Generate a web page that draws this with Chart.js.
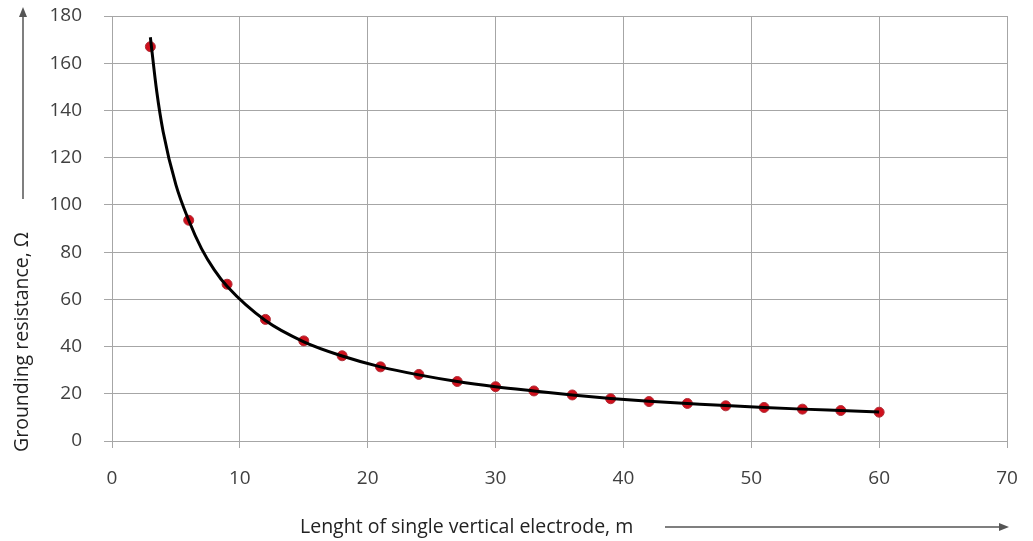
<!DOCTYPE html>
<html>
<head>
<meta charset="utf-8">
<script src="https://cdn.jsdelivr.net/npm/chart.js@4.4.1/dist/chart.umd.min.js"></script>
<style>
  html, body { margin: 0; padding: 0; background: #fff; }
  #wrap { width: 1033px; height: 541px; }
</style>
</head>
<body>
<div id="wrap"><canvas id="groundingChart" width="1033" height="541"></canvas></div>
<script>
// measured points (electrode length in m, resistance in ohm)
const lengths = [3, 6, 9, 12, 15, 18, 21, 24, 27, 30, 33, 36, 39, 42, 45, 48, 51, 54, 57, 60];
const resistance = [167, 93.5, 66.4, 51.5, 42.4, 36.1, 31.4, 28.2, 25.2, 23.0, 21.2, 19.5, 17.9, 16.7, 15.9, 14.9, 14.2, 13.5, 12.9, 12.2];

// trend line
const trendX = [3, 3.5, 4, 5, 6, 7, 8, 9, 12, 15, 18, 21, 24, 27, 30, 33, 36, 39, 42, 45, 48, 51, 54, 57, 60];
const trendY = [171, 148, 131, 108.5, 93.5, 81.5, 72.5, 65.5, 51, 42, 36, 31.4, 28, 25.2, 23, 21.2, 19.5, 18, 16.8, 15.9, 15, 14.2, 13.5, 12.9, 12.3];

const xTicks = [0, 10, 20, 30, 40, 50, 60, 70];
const yTicks = [0, 20, 40, 60, 80, 100, 120, 140, 160, 180];

const xTitle = 'Lenght of single vertical electrode, m';
const yTitle = 'Grounding resistance, Ω';

const textColor = '#404040';
const gridColor = '#a6a6a6';
const font = '"Open Sans", sans-serif';

// axis titles with arrows, placed like the original
const titlesPlugin = {
    id: 'titles',
    afterDraw(chart) {
        const ctx = chart.ctx;
        ctx.save();
        ctx.fillStyle = '#222';
        ctx.font = '19.5px ' + font;
        ctx.textBaseline = 'middle';

        // x title
        ctx.textAlign = 'left';
        ctx.fillText(xTitle, 300, 527);

        // y title (rotated)
        ctx.save();
        ctx.translate(22, 452);
        ctx.rotate(-Math.PI / 2);
        ctx.fillText(yTitle, 0, 0);
        ctx.restore();

        // arrows
        ctx.strokeStyle = '#555';
        ctx.fillStyle = '#555';
        ctx.lineWidth = 1.5;
        ctx.beginPath();
        ctx.moveTo(665, 527);
        ctx.lineTo(1000, 527);
        ctx.stroke();
        ctx.beginPath();
        ctx.moveTo(1009, 527);
        ctx.lineTo(999, 523);
        ctx.lineTo(999, 531);
        ctx.closePath();
        ctx.fill();

        ctx.beginPath();
        ctx.moveTo(23, 199);
        ctx.lineTo(23, 16);
        ctx.stroke();
        ctx.beginPath();
        ctx.moveTo(23, 7);
        ctx.lineTo(19, 17);
        ctx.lineTo(27, 17);
        ctx.closePath();
        ctx.fill();
        ctx.restore();
    }
};

const ctx = document.getElementById('groundingChart').getContext('2d');
new Chart(ctx, {
    type: 'scatter',
    data: {
        datasets: [
            {
                label: 'Trend',
                type: 'line',
                data: trendX.map((x, i) => ({ x: x, y: trendY[i] })),
                borderColor: '#000',
                borderWidth: 3,
                pointRadius: 0,
                cubicInterpolationMode: 'monotone',
                fill: false,
                order: 0
            },
            {
                label: 'Measured',
                data: lengths.map((x, i) => ({ x: x, y: resistance[i] })),
                backgroundColor: '#d0101c',
                borderColor: '#b0303a',
                borderWidth: 1,
                pointRadius: 5,
                order: 1
            }
        ]
    },
    options: {
        responsive: false,
        animation: false,
        layout: { padding: { left: 0, right: 26, top: 16, bottom: 0 } },
        plugins: {
            legend: { display: false },
            tooltip: { enabled: false }
        },
        scales: {
            x: {
                type: 'linear',
                min: 0,
                max: 70,
                afterBuildTicks: s => { s.ticks = xTicks.map(v => ({ value: v })); },
                afterFit: s => { s.height = 100; s.paddingLeft = 0; s.paddingRight = 0; },
                grid: { color: gridColor, lineWidth: 1, tickLength: 7 },
                border: { color: gridColor },
                ticks: { color: textColor, font: { family: font, size: 19 }, padding: 19, maxRotation: 0 }
            },
            y: {
                min: 0,
                max: 180,
                afterBuildTicks: s => { s.ticks = yTicks.map(v => ({ value: v })); },
                afterFit: s => { s.width = 112; s.paddingTop = 0; s.paddingBottom = 0; },
                grid: { color: gridColor, lineWidth: 1, tickLength: 8 },
                border: { color: gridColor },
                ticks: { color: textColor, font: { family: font, size: 19 }, padding: 22 }
            }
        }
    },
    plugins: [titlesPlugin]
});
</script>
</body>
</html>
